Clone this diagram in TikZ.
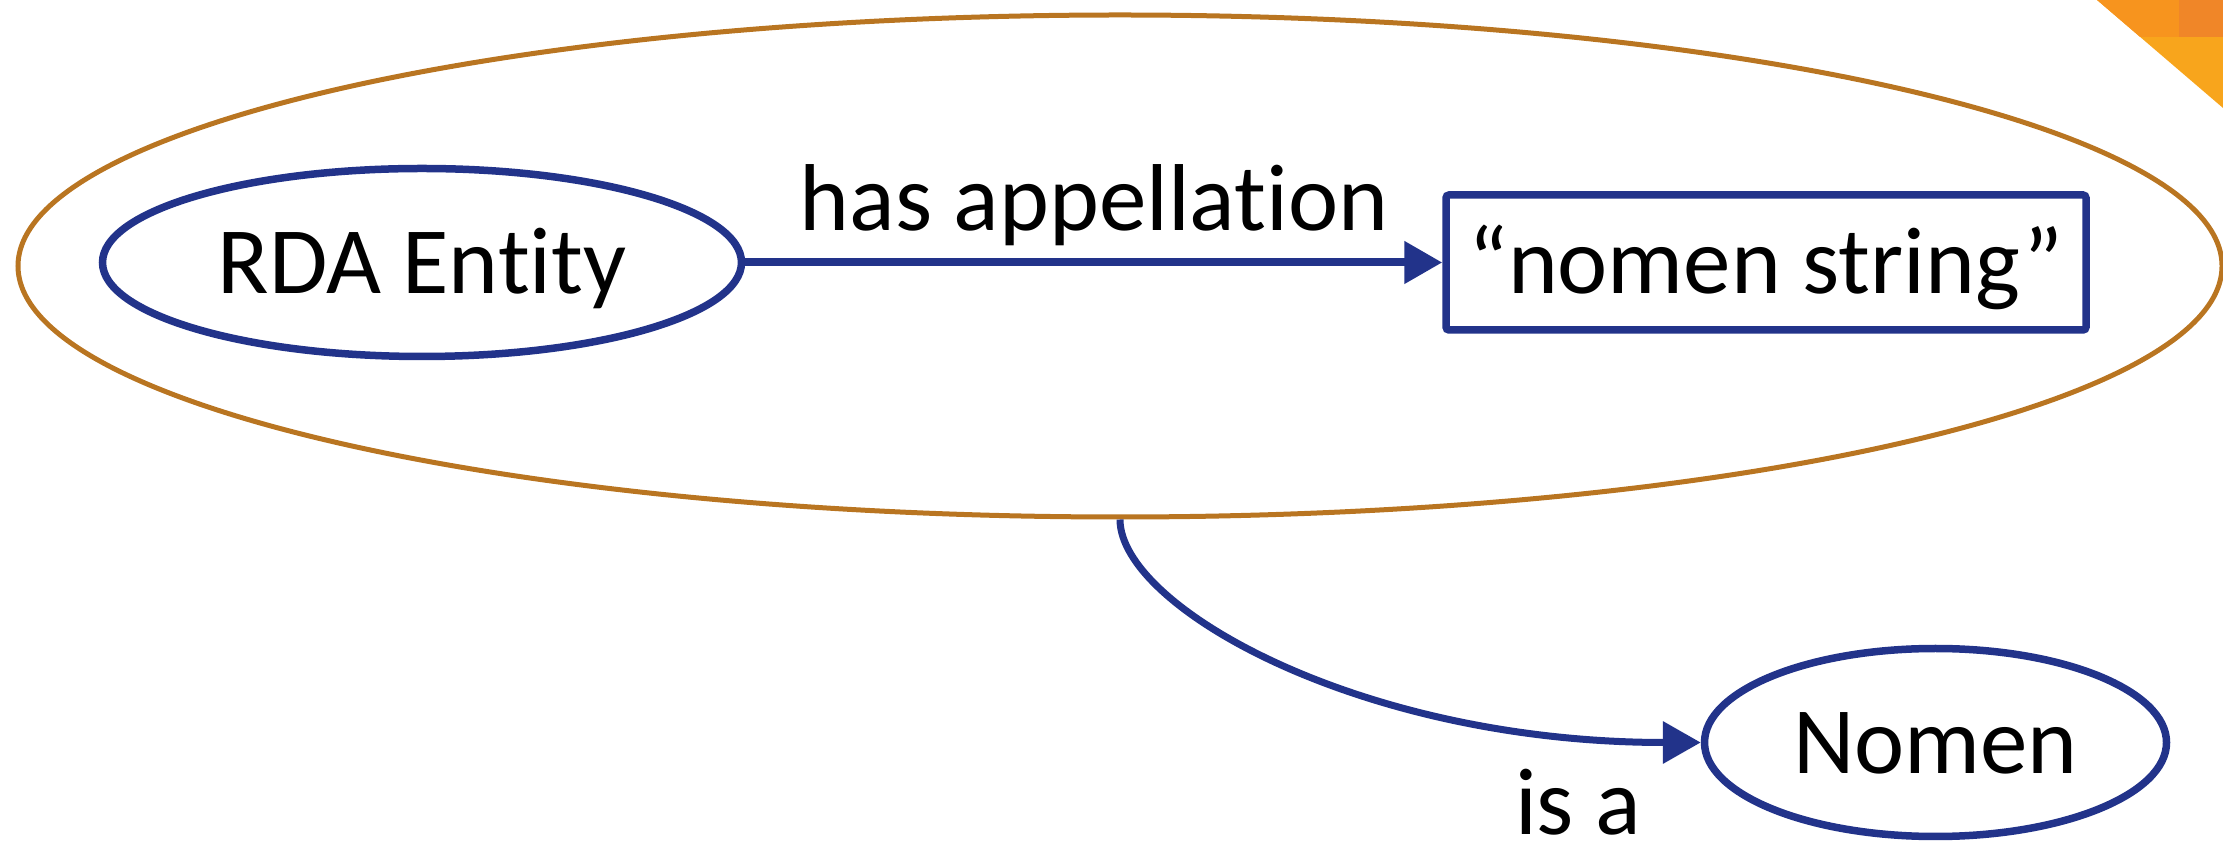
\documentclass[tikz,border=0pt]{standalone}
\usepackage{fontspec}
\setmainfont{Carlito}[Ligatures=NoCommon]
\usetikzlibrary{shapes.geometric,arrows.meta}
\definecolor{rdablue}{RGB}{34,51,138}
\definecolor{grouporange}{RGB}{185,117,33}
\definecolor{cornerlight}{RGB}{248,165,28}
\definecolor{cornermid}{RGB}{247,148,30}
\definecolor{cornerdark}{RGB}{240,134,40}
\begin{document}
\begin{tikzpicture}[x=1pt,y=1pt,
  lbl/.style={font=\fontsize{95}{114}\selectfont, inner sep=0pt},
  entity/.style={ellipse, draw=rdablue, line width=7.5pt, inner sep=0pt,
    minimum height=188pt, font=\fontsize{95}{114}\selectfont,
    text height=63pt, text depth=0pt},
  strbox/.style={rectangle, draw=rdablue, line width=7.5pt, rounded corners=3pt,
    minimum width=640pt, minimum height=135pt, inner sep=0pt,
    font=\fontsize{95}{114}\selectfont, text height=62pt, text depth=0pt},
  grp/.style={ellipse, draw=grouporange, line width=5pt,
    minimum width=2204pt, minimum height=502pt, inner sep=0pt},
  conn/.style={draw=rdablue, line width=8pt, -{Triangle[length=38pt,width=41pt]}}
]
\useasboundingbox (0,0) rectangle (2223,848);
% decorative corner
\begin{scope}
  \clip (2097,848) -- (2223,848) -- (2223,740) -- cycle;
  \fill[cornerlight] (2090,730) rectangle (2223,848);
  \fill[cornermid] (2090,811) rectangle (2179,848);
  \fill[cornerdark] (2179,811) rectangle (2223,848);
\end{scope}
% nodes
\node[grp] (group) at (1120,582) {};
\node[entity, minimum width=639pt] (rda) at (422,585.5) {RDA Entity};
\node[strbox] (nstr) at (1766,585.5) {“nomen string”};
\node[entity, minimum width=462pt] (nomen) at (1935.5,105.5) {Nomen};
% connectors
\draw[conn] (rda.east) -- (nstr.west);
\node[lbl, anchor=base] (hasapp) at (1094,617) {has appellation};
\draw[conn, line width=7pt] (group.south) .. controls +(0,-87) and +(-341,0) .. (nomen.west);
\node[lbl, anchor=base] (isa) at (1578,13) {is a};
\end{tikzpicture}
\end{document}
